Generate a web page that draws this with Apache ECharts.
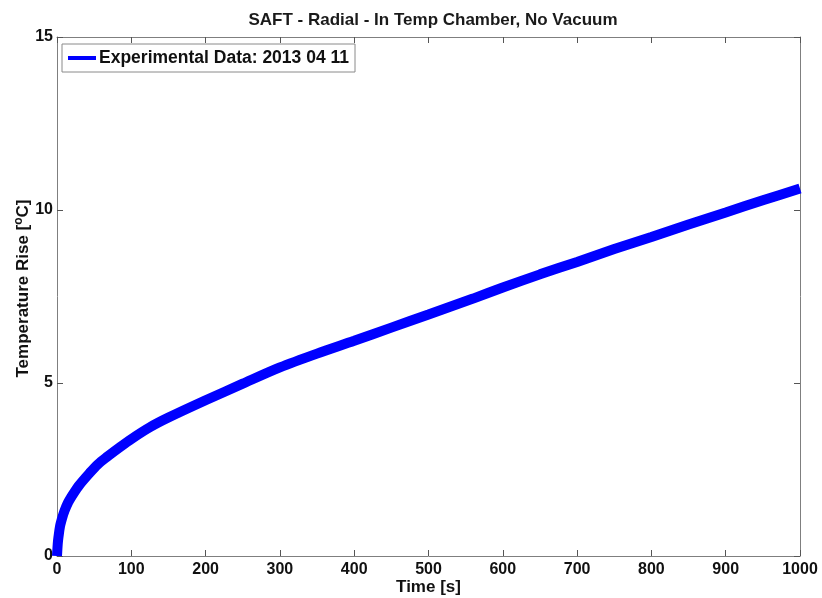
<!DOCTYPE html>
<html>
<head>
<meta charset="utf-8">
<script src="https://cdn.jsdelivr.net/npm/echarts@6/dist/echarts.min.js"></script>
<style>html,body{margin:0;padding:0;background:#fff}#c{width:822px;height:598px}</style>
</head>
<body>
<div id="c"></div>
<script>
var times = [0, 1, 2, 4, 7, 10, 15, 22, 30, 44, 55, 67, 85, 100, 125, 150, 200, 250, 300, 350, 400, 450, 500, 560, 600, 650, 700, 750, 800, 850, 900, 950, 1000];
var tempRise = [0, 0.35, 0.55, 0.85, 1.1, 1.3, 1.55, 1.8, 2.05, 2.4, 2.65, 2.86, 3.15, 3.38, 3.72, 4.0, 4.5, 4.98, 5.45, 5.85, 6.22, 6.6, 6.98, 7.44, 7.76, 8.14, 8.5, 8.87, 9.22, 9.58, 9.93, 10.28, 10.62];
var xTicks = [0, 100, 200, 300, 400, 500, 600, 700, 800, 900, 1000];
var yTicks = [0, 5, 10, 15];

var seriesData = times.map(function (t, i) { return [t, tempRise[i]]; });
var font = 'Liberation Sans, Arial, sans-serif';
var chart = echarts.init(document.getElementById('c'));
var axisLine = { show: true, onZero: false, lineStyle: { color: '#7f7f7f', width: 1 } };
var tick = { show: true, inside: true, length: 6, lineStyle: { color: '#555', width: 1 } };
chart.setOption({
  animation: false,
  backgroundColor: '#fff',
  title: {
    text: 'SAFT - Radial - In Temp Chamber, No Vacuum',
    left: 428, top: 7, textAlign: 'center',
    textStyle: { fontFamily: font, fontWeight: 'bold', fontSize: 17, color: '#1a1a1a' }
  },
  legend: {
    left: 62, top: 44,
    padding: [5, 6, 5, 6],
    borderColor: '#8a8a8a', borderWidth: 1,
    backgroundColor: '#fff',
    icon: 'rect', itemWidth: 28, itemHeight: 4, itemGap: 4,
    textStyle: { fontFamily: font, fontWeight: 'bold', fontSize: 17.5, color: '#111', padding: [0, 0, 0, -2] },
    data: ['Experimental Data: 2013 04 11']
  },
  grid: { left: 57, right: 22, top: 37, bottom: 42, outerBoundsMode: 'none', containLabel: false },
  xAxis: [{
    type: 'value', min: 0, max: 1000, interval: 100,
    name: 'Time [s]', nameLocation: 'middle', nameGap: 23, nameMoveOverlap: false,
    nameTextStyle: { fontFamily: font, fontWeight: 'bold', fontSize: 17, color: '#111' },
    axisLine: axisLine, axisTick: tick, splitLine: { show: false },
    axisLabel: { fontFamily: font, fontWeight: 'bold', fontSize: 16, color: '#111', margin: 6,
      formatter: function (v) { return xTicks.indexOf(v) >= 0 ? String(v) : ''; } }
  }, {
    type: 'value', position: 'top', min: 0, max: 1000, interval: 100,
    axisLine: axisLine, axisTick: tick, axisLabel: { show: false }, splitLine: { show: false }
  }],
  yAxis: [{
    type: 'value', min: 0, max: 15, interval: 5,
    name: 'Temperature Rise [{sup|o}C]', nameLocation: 'middle', nameGap: 23, nameRotate: 90, nameMoveOverlap: false,
    nameTextStyle: { fontFamily: font, fontWeight: 'bold', fontSize: 17, color: '#111', padding: [0, 0, 0, 16],
      rich: { sup: { fontFamily: font, fontWeight: 'bold', fontSize: 12, verticalAlign: 'top', padding: [0, 0, 9, 0], color: '#111' } } },
    axisLine: axisLine, axisTick: tick, splitLine: { show: false },
    axisLabel: { fontFamily: font, fontWeight: 'bold', fontSize: 16, color: '#111', margin: 4,
      formatter: function (v) { return yTicks.indexOf(v) >= 0 ? String(v) : ''; } }
  }, {
    type: 'value', position: 'right', min: 0, max: 15, interval: 5,
    axisLine: axisLine, axisTick: tick, axisLabel: { show: false }, splitLine: { show: false }
  }],
  series: [{
    name: 'Experimental Data: 2013 04 11',
    type: 'line', data: seriesData, smooth: 0.3, showSymbol: false,
    color: '#0000ff',
    lineStyle: { color: '#0000ff', width: 10 }
  }]
});
</script>
</body>
</html>
